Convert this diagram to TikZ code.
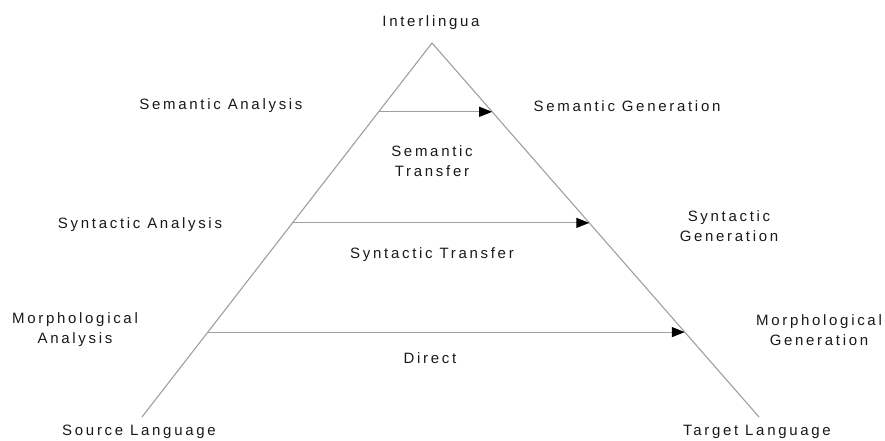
\documentclass[tikz,border=0pt]{standalone}
\usepackage{fontspec}
\setmainfont{Liberation Sans}[LetterSpace=18]
\usetikzlibrary{arrows.meta,calc}

\begin{document}
\begin{tikzpicture}[x=1pt,y=-1pt,>={Triangle[length=13pt,width=10pt,black]},
    side/.style={draw=gray!75,line width=1.1pt},
    level/.style={side,->},
    lbl/.style={font=\fontsize{15}{20}\selectfont,align=center,text=black!90,inner sep=0pt}]
    \useasboundingbox (0,0) rectangle (885,441);
    \coordinate (apex) at (432,43);
    \coordinate (src)  at (142,417);
    \coordinate (tgt)  at (759,417);

    \node[lbl] (inter)  at (431,23)  {Interlingua};
    \node[lbl] (semA)   at (221,106) {Semantic Analysis};
    \node[lbl] (semG)   at (627,106) {Semantic Generation};
    \node[lbl] (semT)   at (432,161) {Semantic\\Transfer};
    \node[lbl] (synA)   at (140,225) {Syntactic Analysis};
    \node[lbl] (synG)   at (729,226) {Syntactic\\Generation};
    \node[lbl] (synT)   at (432,255) {Syntactic Transfer};
    \node[lbl] (morA)   at (75,330)  {Morphological\\Analysis};
    \node[lbl] (morG)   at (819,330) {Morphological\\Generation};
    \node[lbl] (direct) at (430,358) {Direct};
    \node[lbl] (srcL)   at (139,432) {Source Language};
    \node[lbl] (tgtL)   at (757,432) {Target Language};

    \draw[side] (src) -- (apex) -- (tgt);
    \foreach \t in {0.184,0.481,0.773}
        \draw[level] ($(apex)!\t!(src)$) -- ($(apex)!\t!(tgt)$);
\end{tikzpicture}
\end{document}
